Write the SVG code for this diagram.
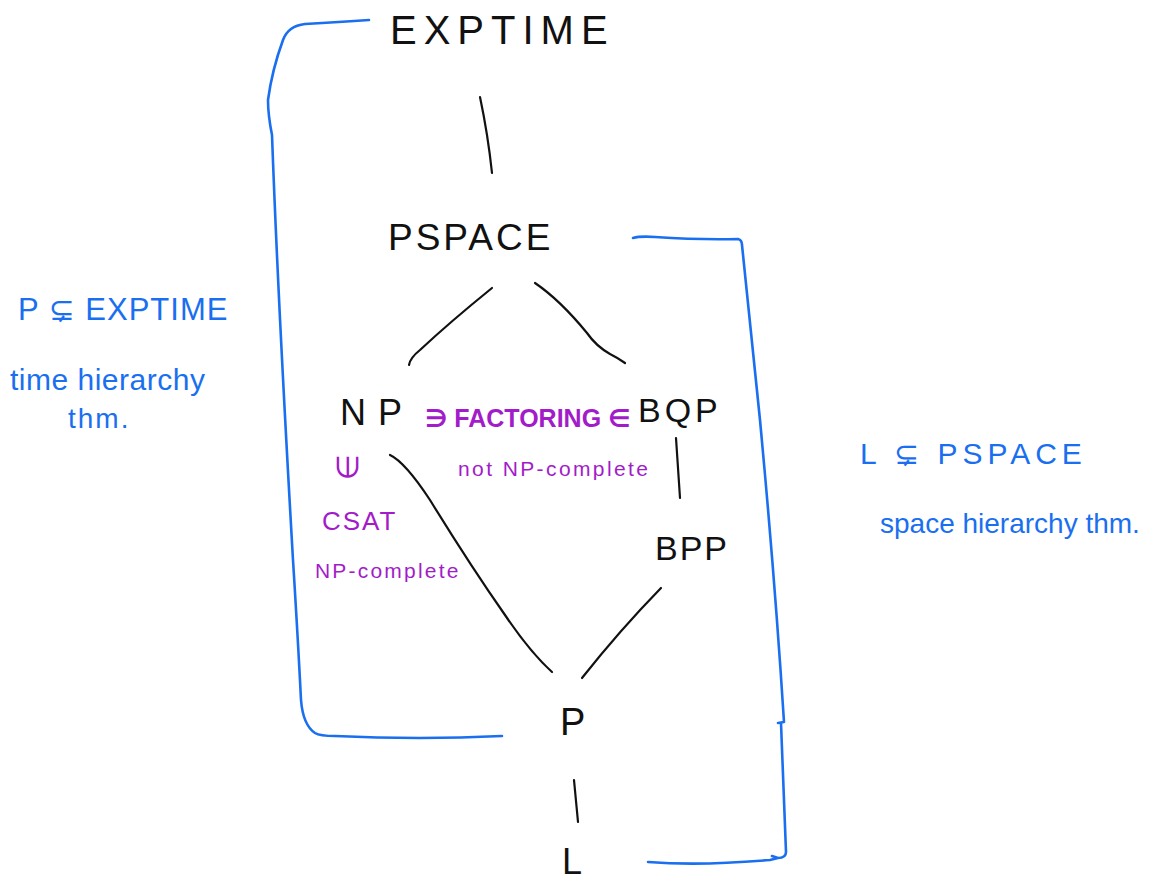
<svg xmlns="http://www.w3.org/2000/svg" width="1172" height="884" viewBox="0 0 1172 884">
  <style>
    .bg { fill: #ffffff; }
    .cls { font-family: "Liberation Sans", "DejaVu Sans", sans-serif; fill: #111111; }
    .note { font-family: "Liberation Sans", "DejaVu Sans", sans-serif; fill: #a21cc9; }
    .side { font-family: "Liberation Sans", "DejaVu Sans", sans-serif; fill: #1a6ff0; }
    .edge { fill: none; stroke: #111111; stroke-width: 2.2; stroke-linecap: round; stroke-linejoin: round; }
    .brace { fill: none; stroke: #1a6ff0; stroke-width: 2.6; stroke-linecap: round; stroke-linejoin: round; }
  </style>
  <rect class="bg" x="0" y="0" width="1172" height="884"/>

  <!-- connectors between complexity classes -->
  <g id="connectors">
    <path class="edge" d="M480 97 Q488 135 492 173"/>
    <path class="edge" d="M492 288 Q450 322 420 350 Q410 358 409 365"/>
    <path class="edge" d="M535 283 Q560 300 587 333 Q596 346 610 354 Q618 358 625 363"/>
    <path class="edge" d="M390 455 Q405 462 430 500 Q470 565 505 615 Q530 652 552 672"/>
    <path class="edge" d="M676 438 L680 498"/>
    <path class="edge" d="M661 588 Q620 630 582 678"/>
    <path class="edge" d="M574 780 L578 822"/>
  </g>

  <!-- blue brackets spanning the hierarchy theorems -->
  <g id="brackets">
    <path class="brace" d="M369 20 Q340 22 305 24 Q288 26 283 40 Q272 70 268 100 Q268 115 272 135 Q278 300 293 560 Q298 640 301 700 Q303 725 315 733 Q320 736 335 736 Q420 740 502 736"/>
    <path class="brace" d="M633 238 Q640 236 655 237 Q700 240 738 239 Q742 240 742 245 Q750 320 760 420 Q775 580 784 722 L778 723 M781 723 Q784 800 786 852 Q786 858 778 858 M648 862 Q700 866 770 860 L778 858 L772 856"/>
  </g>

  <!-- class nodes -->
  <g id="node-exptime"><text class="cls" x="390" y="44" font-size="40" letter-spacing="7">EXPTIME</text></g>
  <g id="node-pspace"><text class="cls" x="388" y="250" font-size="37" letter-spacing="3">PSPACE</text></g>
  <g id="node-np"><text class="cls" x="340" y="425" font-size="36" letter-spacing="12">NP</text></g>
  <g id="node-bqp"><text class="cls" x="638" y="422" font-size="34" letter-spacing="4">BQP</text></g>
  <g id="node-bpp"><text class="cls" x="655" y="560" font-size="34" letter-spacing="2">BPP</text></g>
  <g id="node-p"><text class="cls" x="560" y="735" font-size="38">P</text></g>
  <g id="node-l"><text class="cls" x="562" y="874" font-size="36">L</text></g>

  <!-- annotations on NP / BQP -->
  <g id="note-factoring">
    <text class="note" x="425" y="427" font-size="25" font-weight="bold">∋ FACTORING ∈</text>
    <text class="note" x="458" y="476" font-size="21" letter-spacing="2.4">not NP-complete</text>
  </g>
  <g id="note-csat">
    <text class="note" transform="translate(347 467) rotate(90)" font-size="30" text-anchor="middle" dominant-baseline="central">∋</text>
    <text class="note" x="322" y="530" font-size="26" letter-spacing="2">CSAT</text>
    <text class="note" x="315" y="578" font-size="21" letter-spacing="2.2">NP-complete</text>
  </g>

  <!-- hierarchy theorem notes -->
  <g id="note-time">
    <text class="side" x="18" y="320" font-size="31" letter-spacing="1">P ⊊ EXPTIME</text>
    <text class="side" x="10" y="390" font-size="30" letter-spacing="0.5">time hierarchy</text>
    <text class="side" x="68" y="428" font-size="28" letter-spacing="2">thm.</text>
  </g>
  <g id="note-space">
    <text class="side" x="860" y="464" font-size="30" letter-spacing="5">L ⊊ PSPACE</text>
    <text class="side" x="880" y="533" font-size="28">space hierarchy thm.</text>
  </g>
</svg>
